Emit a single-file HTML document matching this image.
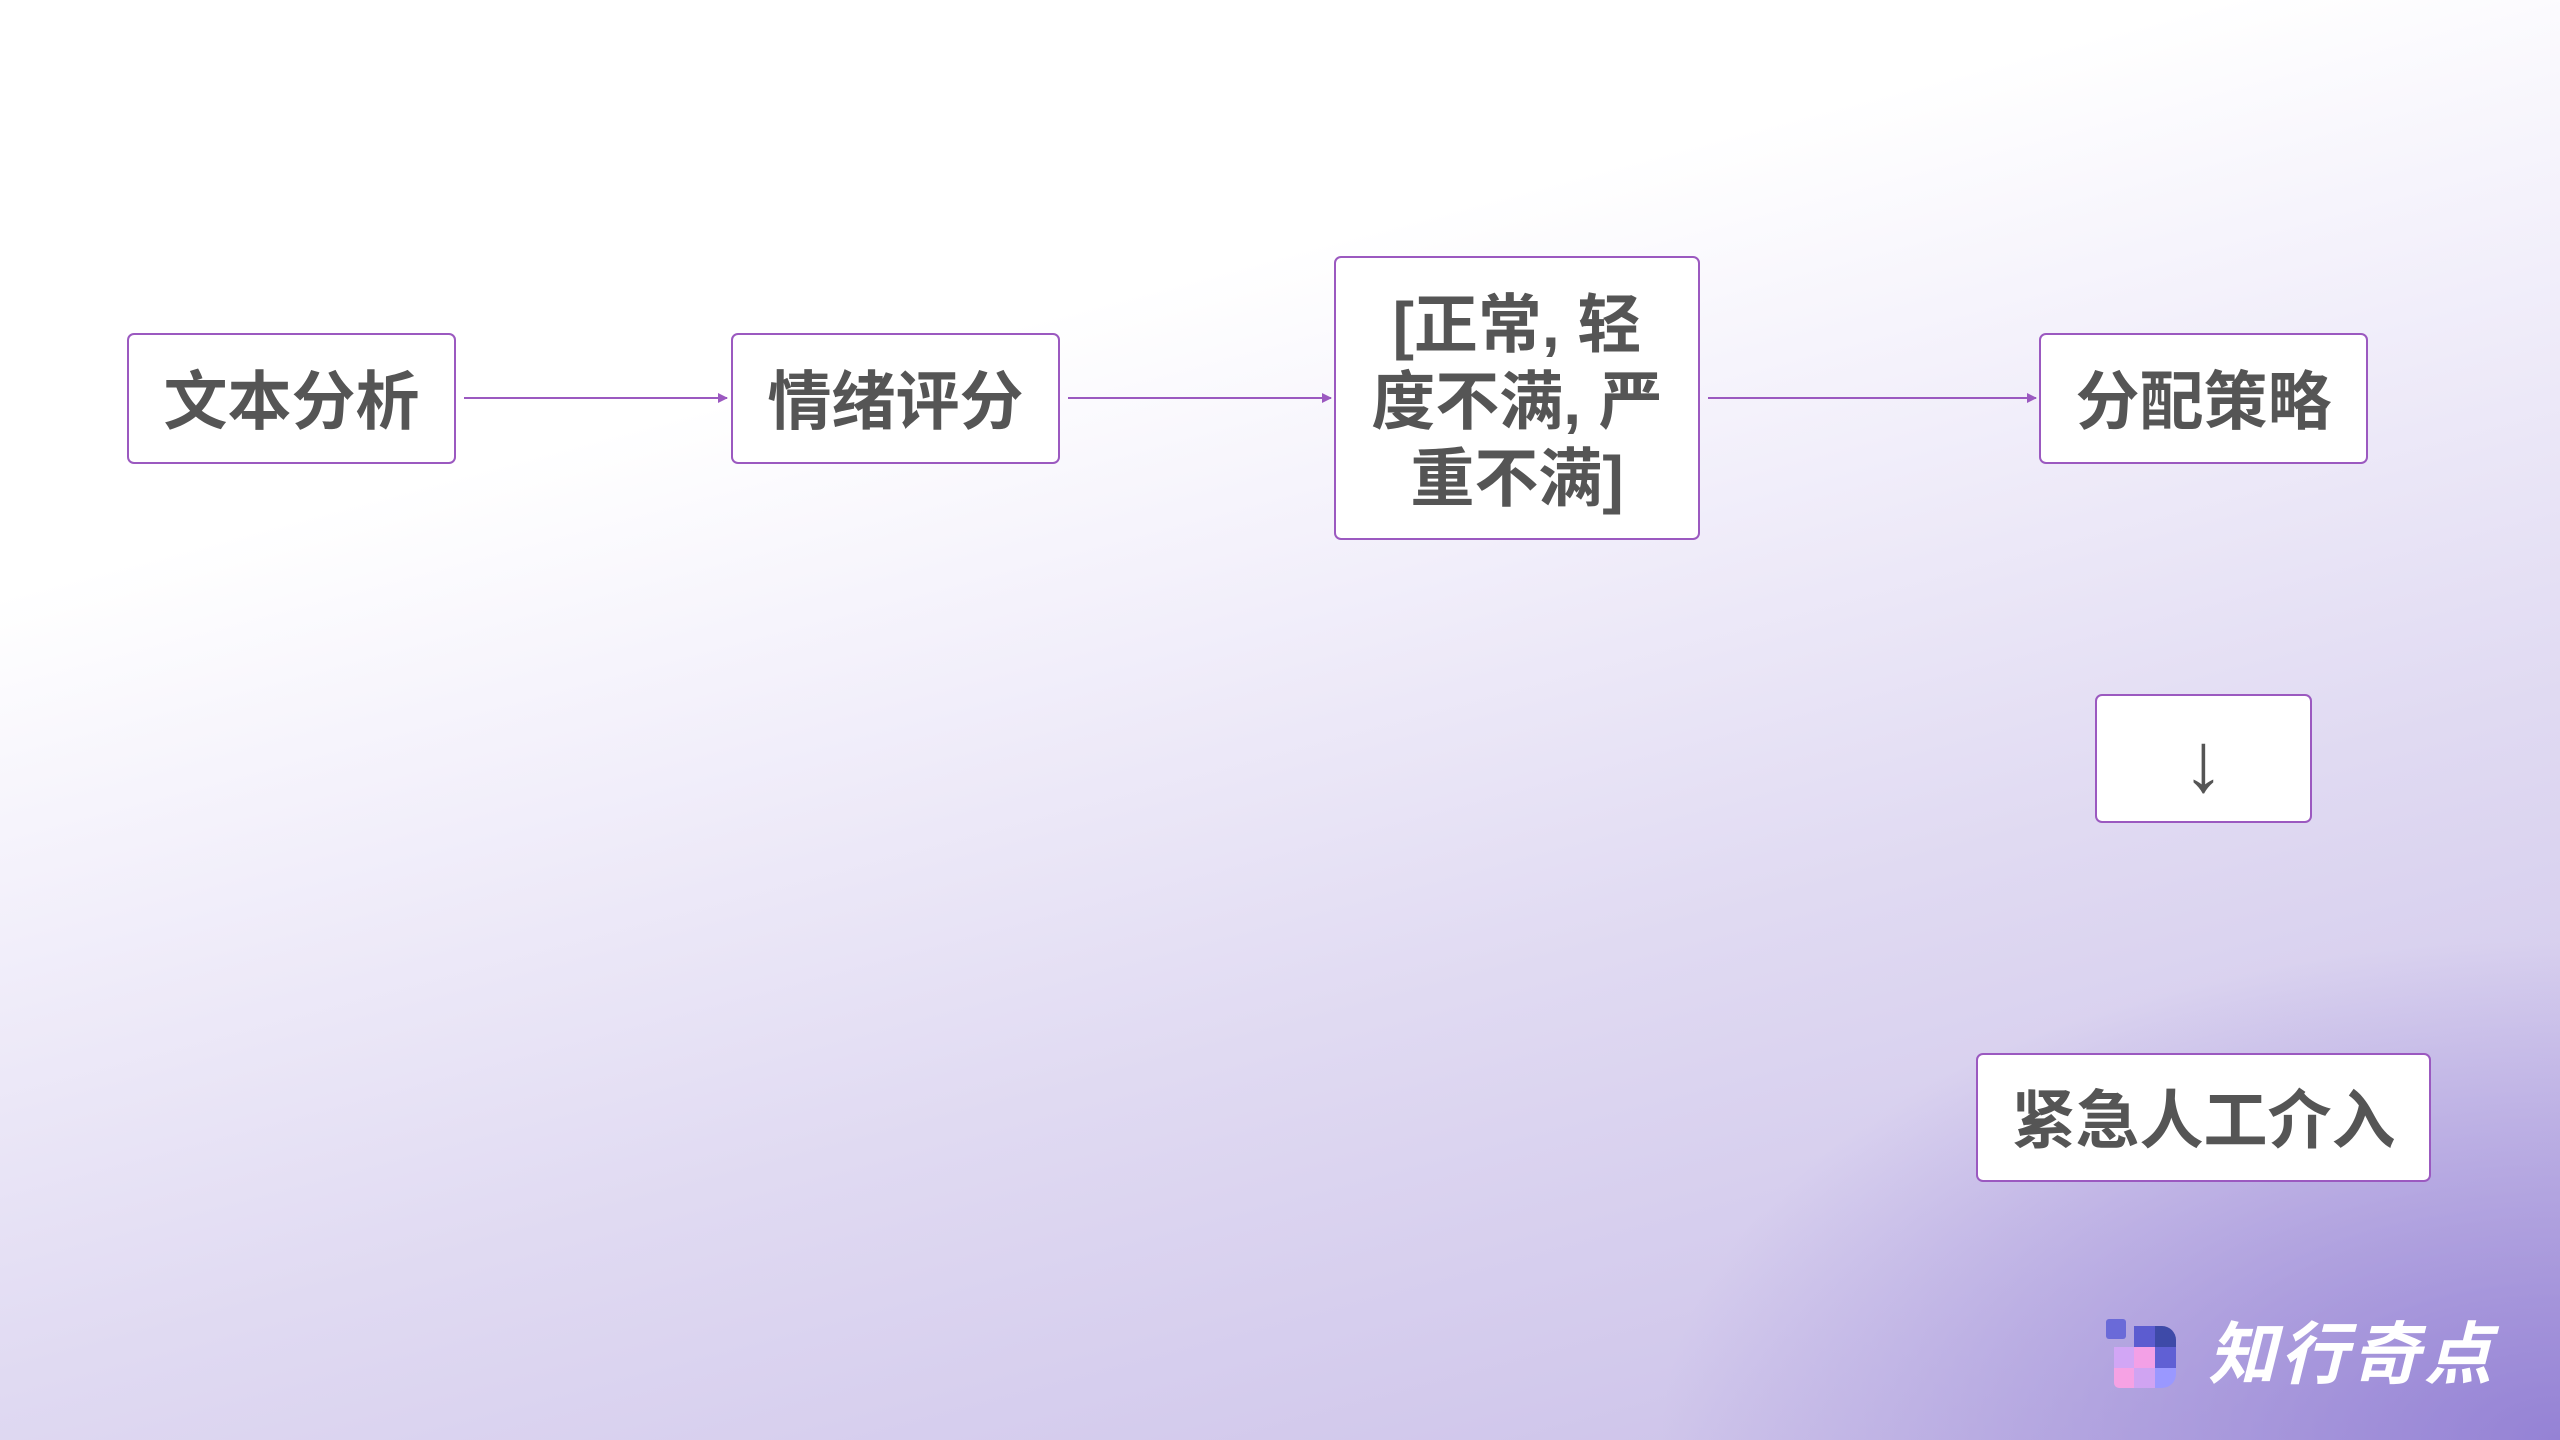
<!DOCTYPE html>
<html><head><meta charset="utf-8"><style>
html,body{margin:0;padding:0}
body{width:2560px;height:1440px;position:relative;overflow:hidden;
background:
radial-gradient(ellipse 900px 500px at 2560px 1440px, rgba(140,120,210,0.85), rgba(140,120,210,0) 100%),
linear-gradient(165deg,#ffffff 0%,#ffffff 28%,#f1eefa 45%,#e0daf2 65%,#d2c9ec 85%,#c6bbe6 100%);
font-family:"Liberation Sans","Noto Sans CJK SC",sans-serif;}
.b{position:absolute;box-sizing:border-box;border:2px solid #9b59c0;border-radius:7px;background:#fff;
display:flex;align-items:center;justify-content:center;text-align:center;color:#555;font-weight:bold;font-size:64px;line-height:77px;padding-top:8px}
svg{position:absolute;left:0;top:0}
</style></head><body>
<svg width="2560" height="1440">
<defs><marker id="a" markerWidth="10" markerHeight="10" refX="9" refY="5" orient="auto" markerUnits="userSpaceOnUse"><path d="M0,0 L10,5 L0,10z" fill="#9b59c0"/></marker></defs>
<g stroke="#9b59c0" stroke-width="2" marker-end="url(#a)">
<line x1="464" y1="398" x2="727" y2="398"/>
<line x1="1068" y1="398" x2="1331" y2="398"/>
<line x1="1708" y1="398" x2="2036" y2="398"/>
</g>
</svg>
<div class="b" style="left:127px;top:333px;width:329px;height:131px">文本分析</div>
<div class="b" style="left:731px;top:333px;width:329px;height:131px">情绪评分</div>
<div class="b" style="left:1334px;top:256px;width:366px;height:284px">[正常, 轻<br>度不满, 严<br>重不满]</div>
<div class="b" style="left:2039px;top:333px;width:329px;height:131px">分配策略</div>
<div class="b" style="left:2095px;top:694px;width:217px;height:129px;font-weight:normal;font-size:84px">↓</div>
<div class="b" style="left:1976px;top:1053px;width:455px;height:129px">紧急人工介入</div>
<div style="position:absolute;left:2106px;top:1319px;width:70px;height:70px">
<div style="position:absolute;left:0;top:0;width:20px;height:20px;background:#6a6ad8;border-radius:3px"></div>
<div style="position:absolute;left:28px;top:7px;width:21px;height:21px;background:#5c5cd0"></div>
<div style="position:absolute;left:49px;top:7px;width:21px;height:21px;background:#3e4aa8;border-top-right-radius:14px"></div>
<div style="position:absolute;left:8px;top:28px;width:20px;height:21px;background:#d2a6f5"></div>
<div style="position:absolute;left:28px;top:28px;width:21px;height:21px;background:#f3a0e6"></div>
<div style="position:absolute;left:49px;top:28px;width:21px;height:21px;background:#6060d4"></div>
<div style="position:absolute;left:8px;top:49px;width:20px;height:20px;background:#f6a2e4;border-bottom-left-radius:5px"></div>
<div style="position:absolute;left:28px;top:49px;width:21px;height:20px;background:#d0a4f2"></div>
<div style="position:absolute;left:49px;top:49px;width:21px;height:20px;background:#9a98ff;border-bottom-right-radius:14px"></div>
</div>
<div style="position:absolute;left:2208px;top:1310px;font-size:68px;font-weight:bold;font-style:italic;color:#fff;letter-spacing:4px;line-height:90px">知行奇点</div>
</body></html>
